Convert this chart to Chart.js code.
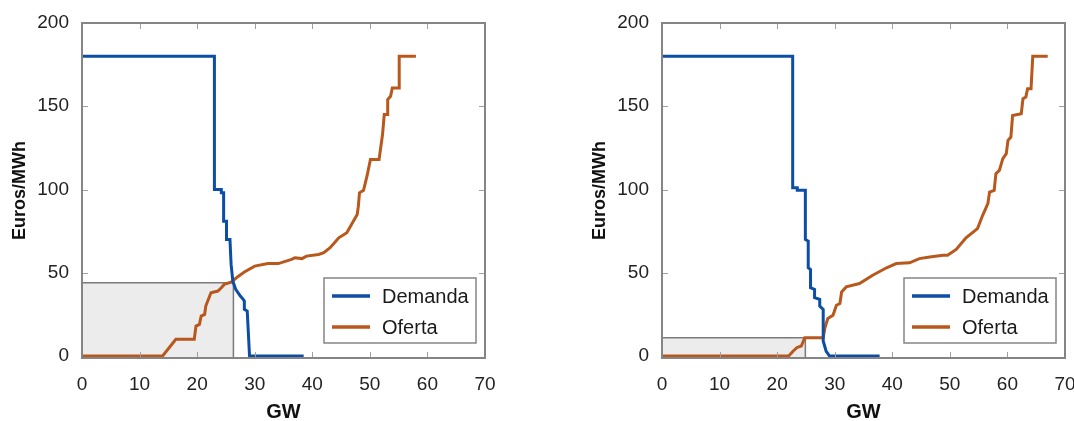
<!DOCTYPE html>
<html>
<head>
<title>Demanda y oferta</title>
<script src="https://cdn.jsdelivr.net/npm/chart.js"></script>
<style>
  body { margin: 0; background: #fff; }
  .box { position: absolute; top: 0; height: 421px; }
</style>
</head>
<body>
<div class="box" style="left: 0; width: 540px;"><canvas id="left"></canvas></div>
<div class="box" style="left: 580px; width: 494px;"><canvas id="right"></canvas></div>

<script>
// ---- data (GW, Euros/MWh) ----
const xTicks = [0, 10, 20, 30, 40, 50, 60, 70];
const yTicks = [0, 50, 100, 150, 200];

// left panel
const demandaGW1 = [0, 23, 23, 24.2, 24.2, 24.6, 24.6, 25.1, 25.1, 25.7, 25.9, 26.2, 26.7, 27.5, 28.0, 28.2, 28.2, 28.7, 29.1, 38.5];
const demandaP1  = [180, 180, 100, 100, 98, 98, 81, 81, 70, 70, 55, 45, 40, 36, 34, 33, 28, 27, 0, 0];
const ofertaGW1 = [0, 14, 16.3, 19.5, 19.8, 20.4, 20.7, 21.3, 21.5, 22.4, 23.6, 24.2, 24.7, 26, 27, 28.2, 30, 32.3, 34.1, 36.4, 37, 38.2, 39, 41.1, 42, 43.1, 44.6, 46, 47.8, 48.0, 48.2, 48.9, 49.5, 50.1, 51.6, 52.2, 52.5, 53.1, 53.1, 53.6, 53.9, 55.1, 55.1, 58];
const ofertaP1  = [0, 0, 10, 10, 18, 19, 24, 25, 30, 38, 39, 41, 43, 44.5, 47.5, 50.5, 54, 55.5, 55.5, 58, 59, 58.5, 60, 61, 62, 65, 71, 74, 85, 90, 98, 99.5, 108, 118, 118, 133, 145, 145, 154, 156, 161, 161, 180, 180];
const equilibrio1 = { gw: 26.3, precio: 44 };

// right panel
const demandaGW2 = [0, 22.7, 22.7, 23.5, 23.5, 24.9, 24.9, 25.4, 25.4, 25.8, 25.8, 26.5, 26.5, 27.4, 27.4, 28.0, 28.0, 28.5, 29.1, 37.8];
const demandaP2  = [180, 180, 101, 101, 99.5, 99.5, 70, 69, 53, 52, 41, 40, 35, 34, 30, 28, 9, 3, 0, 0];
const ofertaGW2 = [0, 22, 22.8, 23.4, 24.2, 24.8, 28.0, 28.3, 28.8, 29.7, 30.3, 30.9, 31.2, 32, 34.3, 36.6, 39, 40.7, 43, 44.7, 46.5, 48.8, 49.6, 51.1, 52.8, 54.8, 55.7, 56.6, 56.9, 57.7, 58, 58.6, 59.2, 59.8, 60.1, 60.6, 60.9, 62.4, 62.7, 63.2, 63.5, 64.1, 64.4, 67];
const ofertaP2  = [0, 0, 3, 5, 6, 11, 11, 17, 22.5, 24.5, 30.5, 31.5, 38.5, 41.5, 43.5, 48.5, 53, 55.5, 56, 58.5, 59.5, 60.5, 60.5, 64, 71, 76.5, 84.5, 91.5, 98.5, 99.5, 109.5, 111.5, 118.5, 121.5, 129.5, 131.5, 144.5, 145.5, 154.5, 155.5, 160.5, 160.5, 180, 180];
const equilibrio2 = { gw: 24.9, precio: 11 };

const BLUE = '#0c4ea6';
const ORANGE = '#b8581c';
const FRAME = '#858585';
const YMIN = -1.2;

function pts(xs, ys) {
  return xs.map((x, i) => ({ x: x, y: ys[i] }));
}

// frame + inward ticks on all four sides, like the original plot
const framePlugin = {
  id: 'frame',
  afterDatasetsDraw(chart) {
    const { ctx, chartArea: a, scales } = chart;
    ctx.save();
    ctx.strokeStyle = '#a0a0a0';
    ctx.lineWidth = 1;
    const len = 6;
    xTicks.slice(1, -1).forEach(v => {
      const px = Math.round(scales.x.getPixelForValue(v)) + 0.5;
      ctx.beginPath();
      ctx.moveTo(px, a.bottom); ctx.lineTo(px, a.bottom - len);
      ctx.moveTo(px, a.top); ctx.lineTo(px, a.top + len);
      ctx.stroke();
    });
    yTicks.slice(1, -1).forEach(v => {
      const py = Math.round(scales.y.getPixelForValue(v)) + 0.5;
      ctx.beginPath();
      ctx.moveTo(a.left, py); ctx.lineTo(a.left + len, py);
      ctx.moveTo(a.right, py); ctx.lineTo(a.right - len, py);
      ctx.stroke();
    });
    ctx.strokeStyle = FRAME;
    ctx.lineWidth = 2;
    ctx.strokeRect(a.left, a.top, a.right - a.left, a.bottom - a.top);
    ctx.restore();
  }
};

// legend box in the lower right corner of the plot
const legendPlugin = {
  id: 'boxLegend',
  afterDraw(chart) {
    const { ctx, chartArea: a } = chart;
    const items = chart.data.datasets.filter(d => d.label);
    const w = 152, h = 65;
    const x0 = a.right - 9 - w, y0 = a.bottom - 15 - h;
    ctx.save();
    ctx.fillStyle = '#fff';
    ctx.fillRect(x0, y0, w, h);
    ctx.strokeStyle = FRAME;
    ctx.lineWidth = 1.5;
    ctx.strokeRect(x0, y0, w, h);
    ctx.font = '20px "Liberation Sans", Arial, sans-serif';
    ctx.textBaseline = 'middle';
    items.forEach((d, i) => {
      const y = y0 + 18 + i * 31;
      ctx.strokeStyle = d.borderColor;
      ctx.lineWidth = 3.5;
      ctx.beginPath();
      ctx.moveTo(x0 + 8, y); ctx.lineTo(x0 + 46, y);
      ctx.stroke();
      ctx.fillStyle = '#1a1a1a';
      ctx.fillText(d.label, x0 + 58, y + 1);
    });
    ctx.restore();
  }
};

function makeChart(id, dGW, dP, oGW, oP, eq, padRight) {
  const ctx = document.getElementById(id).getContext('2d');
  return new Chart(ctx, {
    type: 'line',
    data: {
      datasets: [
        { label: 'Demanda', data: pts(dGW, dP), borderColor: BLUE, borderWidth: 3, pointRadius: 0, tension: 0, order: 1 },
        { label: 'Oferta', data: pts(oGW, oP), borderColor: ORANGE, borderWidth: 3, pointRadius: 0, tension: 0, order: 2 },
        {
          label: '',
          data: [{ x: 0, y: eq.precio }, { x: eq.gw, y: eq.precio }, { x: eq.gw, y: YMIN }],
          borderColor: '#7a7a7a', borderWidth: 1.5, backgroundColor: '#ececec',
          fill: 'start', pointRadius: 0, tension: 0, order: 3
        }
      ]
    },
    options: {
      responsive: true,
      maintainAspectRatio: false,
      animation: false,
      layout: { padding: { top: 23, right: padRight, left: 0, bottom: 0 } },
      plugins: { legend: { display: false }, tooltip: { enabled: false } },
      scales: {
        x: {
          type: 'linear', min: 0, max: 70,
          afterBuildTicks: s => { s.ticks = xTicks.map(v => ({ value: v })); },
          afterFit: s => { s.height = 63; s.paddingLeft = 0; s.paddingRight = 0; },
          grid: { display: false }, border: { display: false },
          ticks: { color: '#222', padding: 7, font: { family: '"Liberation Sans", Arial, sans-serif', size: 19 } },
          title: { display: true, text: 'GW', color: '#111', padding: { top: 0, bottom: 0 },
                   font: { family: '"Liberation Sans", Arial, sans-serif', size: 20, weight: 'bold', lineHeight: 0.9 } }
        },
        y: {
          type: 'linear', min: YMIN, max: 200,
          afterBuildTicks: s => { s.ticks = yTicks.map(v => ({ value: v })); },
          afterFit: s => { s.width = 82; s.paddingTop = 0; s.paddingBottom = 0; },
          grid: { display: false }, border: { display: false },
          ticks: { color: '#222', padding: 5, font: { family: '"Liberation Sans", Arial, sans-serif', size: 19 } },
          title: { display: true, text: 'Euros/MWh', color: '#111', padding: { top: 9, bottom: 0 },
                   font: { family: '"Liberation Sans", Arial, sans-serif', size: 18, weight: 'bold' } }
        }
      }
    },
    plugins: [framePlugin, legendPlugin]
  });
}

makeChart('left', demandaGW1, demandaP1, ofertaGW1, ofertaP1, equilibrio1, 55);
makeChart('right', demandaGW2, demandaP2, ofertaGW2, ofertaP2, equilibrio2, 9);
</script>
</body>
</html>
